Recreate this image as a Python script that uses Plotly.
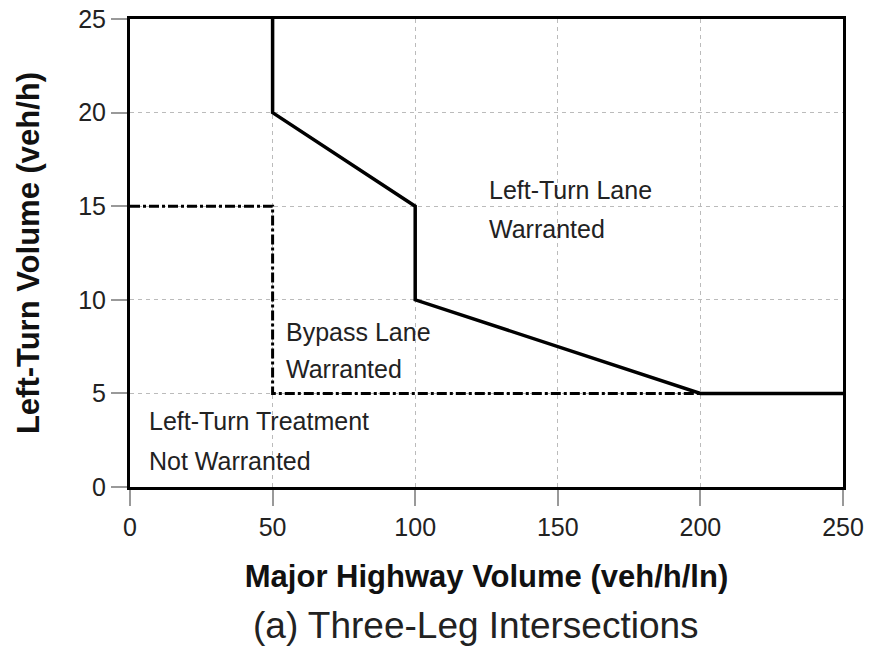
import plotly.graph_objects as go

# Warrant boundaries (major highway volume, left-turn volume)
lane_x = [50, 50, 100, 100, 200, 250]
lane_y = [25, 20, 15, 10, 5, 5]
bypass_x = [0, 50, 50, 200]
bypass_y = [15, 15, 5, 5]

x_ticks = [0, 50, 100, 150, 200, 250]
y_ticks = [0, 5, 10, 15, 20, 25]

# Region labels, one entry per text line
label_text = ["Left-Turn Lane", "Warranted",
              "Bypass Lane", "Warranted",
              "Left-Turn Treatment", "Not Warranted"]
label_x = [125, 125, 54, 54, 6, 6]
label_y = [15.85, 13.8, 8.3, 6.3, 3.5, 1.4]

FONT = "Liberation Sans, Arial, Helvetica, sans-serif"

fig = go.Figure()
fig.add_trace(go.Scatter(x=bypass_x, y=bypass_y, mode="lines",
                         line=dict(color="black", width=3, dash="10px,3px,3px,3px"),
                         hoverinfo="skip", showlegend=False))
fig.add_trace(go.Scatter(x=lane_x, y=lane_y, mode="lines",
                         line=dict(color="black", width=3.5),
                         hoverinfo="skip", showlegend=False))

for t, x, y in zip(label_text, label_x, label_y):
    fig.add_annotation(x=x, y=y, text=t, showarrow=False, xanchor="left",
                       yanchor="middle", align="left",
                       font=dict(family=FONT, size=25, color="#222"))

fig.add_annotation(x=0.485, y=-0.295, xref="paper", yref="paper",
                   text="(a) Three-Leg Intersections", showarrow=False,
                   xanchor="center", yanchor="middle",
                   font=dict(family=FONT, size=37, color="#222"))

axis_common = dict(
    showgrid=True, gridcolor="#bbbbbb", gridwidth=1, griddash="4px,4px",
    showline=True, linecolor="black", linewidth=3, mirror=True,
    ticks="outside", ticklen=16, tickcolor="#999999", tickwidth=1.5,
    zeroline=False, tickfont=dict(family=FONT, size=25, color="#222"),
)

fig.update_xaxes(range=[0, 250], tickvals=x_ticks, **axis_common,
                 title=dict(text="<b>Major Highway Volume (veh/h/ln)</b>",
                            font=dict(family=FONT, size=31, color="#111"),
                            standoff=26))
fig.update_yaxes(range=[0, 25], tickvals=y_ticks, **axis_common,
                 title=dict(text="<b>Left-Turn Volume (veh/h)</b>",
                            font=dict(family=FONT, size=31, color="#111"),
                            standoff=30))

fig.update_layout(width=874, height=659,
                  margin=dict(l=130, r=31, t=19, b=172, autoexpand=False),
                  plot_bgcolor="white", paper_bgcolor="white")

fig.write_html("out.html")
